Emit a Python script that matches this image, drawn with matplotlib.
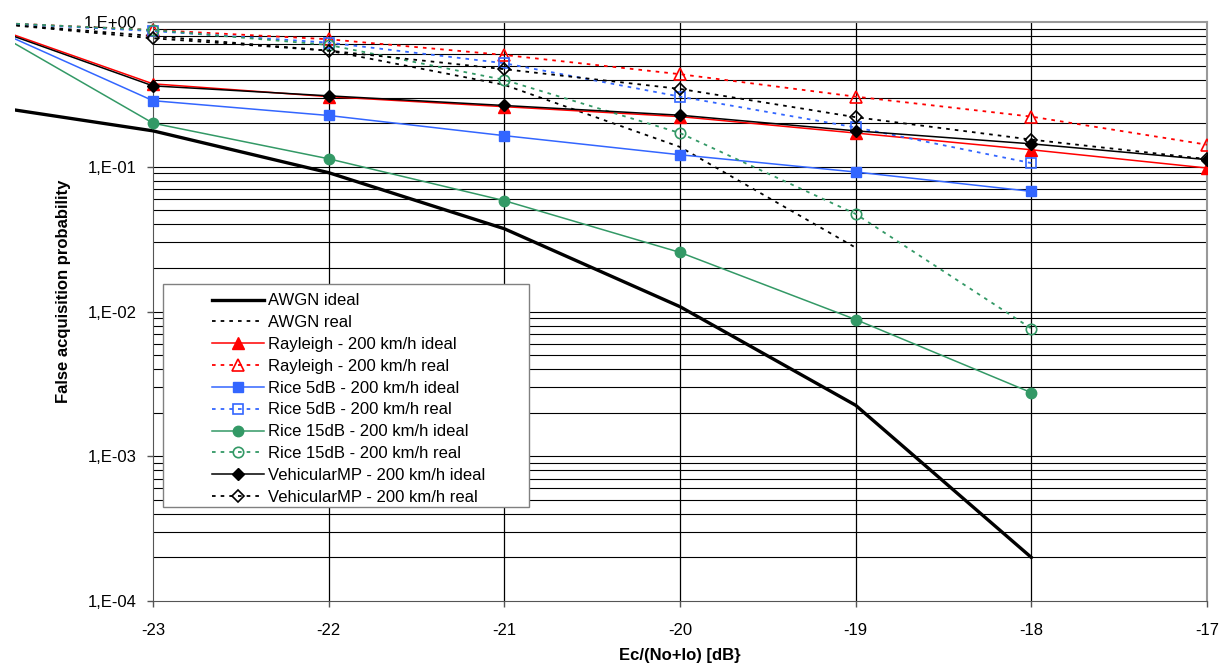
import numpy as np
import matplotlib
matplotlib.use("Agg")
import matplotlib.pyplot as plt
from matplotlib.ticker import FixedLocator, FuncFormatter, NullFormatter
from matplotlib.patches import Rectangle

plt.rcParams['font.family'] = ['Liberation Sans', 'DejaVu Sans']

# Ec/(No+Io) in dB
x_full = [-24, -23, -22, -21, -20, -19, -18, -17]

awgn_ideal = [0.27, 0.177, 0.091, 0.0373, 0.0108, 0.00225, 0.0002]
awgn_real = [1.0, 0.80, 0.634, 0.368, 0.137, 0.0276]
rayl_ideal = [1.0, 0.374, 0.305, 0.26, 0.222, 0.171, 0.131, 0.098]
rayl_real = [1.0, 0.88, 0.76, 0.592, 0.436, 0.305, 0.222, 0.142]
rice5_ideal = [1.0, 0.286, 0.226, 0.164, 0.121, 0.092, 0.0676]
rice5_real = [1.0, 0.866, 0.72, 0.519, 0.305, 0.187, 0.106]
rice15_ideal = [1.0, 0.2, 0.1135, 0.0583, 0.0256, 0.0088, 0.00275]
rice15_real = [1.0, 0.88, 0.694, 0.398, 0.171, 0.0472, 0.00763]
veh_ideal = [0.98, 0.362, 0.309, 0.265, 0.227, 0.177, 0.144, 0.112]
veh_real = [1.0, 0.772, 0.634, 0.472, 0.345, 0.22, 0.154, 0.113]

ytick_vals = [1e0, 1e-1, 1e-2, 1e-3, 1e-4]
ytick_txt = ["1,E+00", "1,E-01", "1,E-02", "1,E-03", "1,E-04"]

RED = "#FF0000"
BLUE = "#3366FF"
GREEN = "#339966"
dots = (0, (2.0, 2.8))

fig = plt.figure(figsize=(12.23, 6.66), dpi=100)
ax = fig.add_axes([15 / 1223, 1 - 601 / 666, 1192 / 1223, 579 / 666])

series = [
    (awgn_ideal, "AWGN ideal", dict(color="black", lw=2.4, ls="-")),
    (awgn_real, "AWGN real", dict(color="black", lw=1.3, ls=dots)),
    (rayl_ideal, "Rayleigh - 200 km/h ideal", dict(color=RED, lw=1.1, marker="^", ms=8)),
    (rayl_real, "Rayleigh - 200 km/h real", dict(color=RED, lw=1.3, ls=dots, marker="^", ms=8, mfc="none", mew=1.2)),
    (rice5_ideal, "Rice 5dB - 200 km/h ideal", dict(color=BLUE, lw=1.1, marker="s", ms=7.5)),
    (rice5_real, "Rice 5dB - 200 km/h real", dict(color=BLUE, lw=1.3, ls=dots, marker="s", ms=7.5, mfc="none", mew=1.2)),
    (rice15_ideal, "Rice 15dB - 200 km/h ideal", dict(color=GREEN, lw=1.1, marker="o", ms=7.5)),
    (rice15_real, "Rice 15dB - 200 km/h real", dict(color=GREEN, lw=1.3, ls=dots, marker="o", ms=7.5, mfc="none", mew=1.2)),
    (veh_ideal, "VehicularMP - 200 km/h ideal", dict(color="black", lw=1.1, marker="D", ms=6.5)),
    (veh_real, "VehicularMP - 200 km/h real", dict(color="black", lw=1.3, ls=dots, marker="D", ms=6.5, mfc="none", mew=1.2)),
]

handles = []
for vals, name, style in series:
    (h,) = ax.plot(x_full[:len(vals)], vals, label=name, zorder=4, **style)
    handles.append(h)

ax.set_yscale("log")
ax.set_xlim(-23 - 138 / 175.67, -17)
ax.set_ylim(1e-4, 1e0)

# grid only inside -23..-17
minor_vals = [m * 10.0 ** e for e in range(-4, 0) for m in range(1, 10)][1:]
ax.hlines(minor_vals, -23, -17, color="black", lw=0.8, zorder=1)
ax.vlines([-22, -21, -20, -19, -18], 1e-4, 1e0, color="black", lw=0.9, zorder=1)

for s in ["top", "bottom"]:
    ax.spines[s].set_bounds(-23, -17)
ax.spines["left"].set_position(("data", -23))
ax.spines["left"].set_color("#555555")
ax.spines["bottom"].set_color("#555555")
ax.spines["top"].set_color("#999999")
ax.spines["right"].set_color("#999999")
ax.spines["top"].set_linewidth(1.5)
ax.spines["right"].set_linewidth(1.5)

ax.xaxis.set_major_locator(FixedLocator([-23, -22, -21, -20, -19, -18, -17]))
ax.xaxis.set_major_formatter(FuncFormatter(lambda v, p: "%d" % round(v)))
ax.yaxis.set_major_locator(FixedLocator(ytick_vals))
ax.yaxis.set_major_formatter(FuncFormatter(lambda v, p: ytick_txt[ytick_vals.index(min(ytick_vals, key=lambda t: abs(np.log10(t) - np.log10(v))))]))
ax.yaxis.set_minor_formatter(NullFormatter())
ax.tick_params(axis="y", which="minor", length=0)
ax.tick_params(axis="both", which="major", direction="out", length=4.5, width=1,
               color="#555555", labelsize=12)
ax.tick_params(axis="x", pad=11)
ax.tick_params(axis="y", pad=7)

ax.set_xlabel("Ec/(No+Io) [dB}", fontsize=12, fontweight="bold")
ax.xaxis.set_label_coords((680 - 15) / 1192, -(648 - 601) / 579)
ax.set_ylabel("False acquisition probability", fontsize=12, fontweight="bold")
ax.yaxis.set_label_coords((71 - 15) / 1192, 1 - (291 - 22) / 579)

box = Rectangle((163 / 1223, 1 - 507 / 666), 366 / 1223, 223 / 666, transform=fig.transFigure,
                facecolor="white", edgecolor="#808080", lw=1, zorder=9, clip_on=False)
ax.add_patch(box)
leg = ax.legend(handles=handles, loc="upper left", bbox_to_anchor=(204 / 1223, 1 - 285 / 666),
                bbox_transform=fig.transFigure, frameon=False, fontsize=12, borderpad=0,
                handlelength=3.1, handletextpad=0.25, labelspacing=0.41)
leg.set_zorder(10)

fig.savefig("out.png", dpi=100)
